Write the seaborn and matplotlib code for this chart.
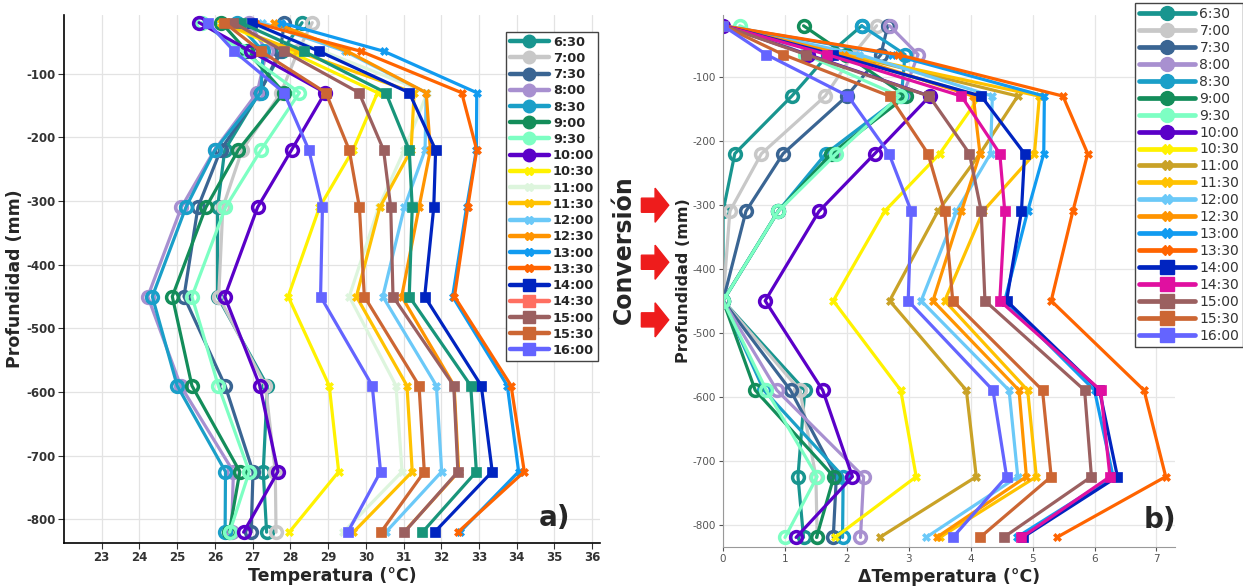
import numpy as np
import pandas as pd
import seaborn as sns
import matplotlib.pyplot as plt
from matplotlib.lines import Line2D
from matplotlib.patches import FancyArrow

# profundidades de medicion (mm)
profundidad = [-20, -65, -130, -220, -310, -450, -590, -725, -820]

horas = ['6:30', '7:00', '7:30', '8:00', '8:30', '9:00', '9:30', '10:00',
         '10:30', '11:00', '11:30', '12:00', '12:30', '13:00', '13:30',
         '14:00', '14:30', '15:00', '15:30', '16:00']

# temperaturas leidas del grafico a) (°C)
t_0630 = [28.31, 27.77, 27.18, 26.26, 26.07, 26.07, 27.39, 27.28, 27.37]
t_0700 = [28.58, 28.20, 27.75, 26.72, 26.21, 26.10, 27.34, 27.60, 27.62]
t_0730 = [27.84, 27.73, 27.18, 26.15, 25.55, 25.18, 26.27, 27.01, 26.96]
t_0800 = [26.91, 27.37, 27.12, 25.99, 25.11, 24.22, 25.09, 26.49, 26.44]
t_0830 = [26.58, 27.28, 27.22, 26.00, 25.23, 24.34, 25.00, 26.28, 26.27]
t_0900 = [26.17, 26.85, 27.83, 26.62, 25.76, 24.87, 25.39, 26.66, 26.38]
t_0930 = [25.66, 26.72, 28.24, 27.22, 26.28, 25.39, 26.09, 26.91, 26.39]
t_1000 = [25.58, 26.95, 28.92, 28.03, 27.13, 26.26, 27.19, 27.67, 26.76]
t_1030 = [26.16, 27.96, 30.31, 29.66, 28.77, 27.94, 29.03, 29.28, 27.97]
t_1100 = [26.87, 28.87, 31.63, 31.02, 30.34, 29.56, 30.80, 30.96, 29.40]
t_1130 = [26.17, 28.17, 31.28, 31.20, 30.37, 29.75, 31.09, 31.23, 29.67]
t_1200 = [27.25, 29.45, 31.60, 31.57, 31.02, 30.45, 31.87, 32.01, 30.53]
t_1230 = [27.56, 29.51, 31.60, 31.71, 31.41, 30.95, 32.34, 32.46, 31.01]
t_1300 = [27.75, 30.48, 32.94, 32.93, 32.67, 32.30, 33.75, 34.05, 32.49]
t_1330 = [27.05, 29.87, 32.54, 32.94, 32.70, 32.35, 33.85, 34.20, 32.44]
t_1400 = [26.98, 28.76, 31.15, 31.85, 31.80, 31.56, 33.06, 33.35, 31.82]
t_1430 = [26.68, 28.36, 30.53, 31.15, 31.23, 31.15, 32.78, 32.93, 31.50]
t_1500 = [26.49, 27.83, 29.82, 30.47, 30.66, 30.72, 32.33, 32.44, 31.02]
t_1530 = [26.25, 27.22, 28.94, 29.56, 29.83, 29.96, 31.41, 31.55, 30.40]
t_1600 = [25.81, 26.51, 27.83, 28.49, 28.85, 28.80, 30.17, 30.39, 29.52]

series = [t_0630, t_0700, t_0730, t_0800, t_0830, t_0900, t_0930, t_1000,
          t_1030, t_1100, t_1130, t_1200, t_1230, t_1300, t_1330,
          t_1400, t_1430, t_1500, t_1530, t_1600]

colores_a = ['#18958F', '#C8C8C8', '#3A6593', '#A890D0', '#1A9FC8', '#138D5A',
             '#7DFFC3', '#5A00C8', '#FFF200', '#DDF5DD', '#FFC200', '#6BC9F8',
             '#FF9400', '#119BF0', '#FF6400', '#0024C0', '#18957A', '#9B6060',
             '#CC6633', '#6464FF']
colores_leg_a = list(colores_a)
colores_leg_a[16] = '#FF6F61'
colores_b = list(colores_a)
colores_b[9] = '#C9A227'
colores_b[16] = '#E010A0'

marcadores = ['o'] * 8 + ['X'] * 7 + ['s'] * 5

sns.set_style('whitegrid')
plt.rcParams['font.family'] = ['DejaVu Sans']
plt.rcParams['axes.unicode_minus'] = False

fig = plt.figure(figsize=(12.43, 5.88), dpi=100)
ax1 = fig.add_axes([0.0515, 0.0765, 0.431, 0.898])
ax2 = fig.add_axes([0.5817, 0.0697, 0.3636, 0.905])


def estilo(m):
    if m == 'o':
        return dict(markersize=8.5, markerfacecolor='none', markeredgewidth=2.5)
    if m == 'X':
        return dict(markersize=6, markeredgewidth=0.5)
    return dict(markersize=7.5, markeredgewidth=0.5)


for i, hora in enumerate(horas):
    t = np.array(series[i])
    dt = t - t.min()  # conversion a delta de temperatura
    df = pd.DataFrame({'T': t, 'dT': dt, 'z': profundidad})
    m = marcadores[i]
    sns.lineplot(data=df, x='T', y='z', ax=ax1, color=colores_a[i], marker=m,
                 sort=False, estimator=None, orient='y', lw=2.3,
                 markeredgecolor=colores_a[i], **estilo(m))
    sns.lineplot(data=df, x='dT', y='z', ax=ax2, color=colores_b[i], marker=m,
                 sort=False, estimator=None, orient='y', lw=2.3,
                 markeredgecolor=colores_b[i], **estilo(m))

# panel a)
ax1.set_xlim(22, 36.2)
ax1.set_ylim(-837, -8)
ax1.set_xticks(range(23, 37))
ax1.set_yticks(range(-800, 0, 100))
ax1.tick_params(axis='both', labelsize=8.5, colors='#333333', length=4,
                left=True, bottom=True, pad=2)
for lab in ax1.get_xticklabels() + ax1.get_yticklabels():
    lab.set_fontweight('bold')
ax1.grid(color='#e3e3e3', lw=0.9)
for s in ['top', 'right']:
    ax1.spines[s].set_visible(False)
for s in ['left', 'bottom']:
    ax1.spines[s].set_color('black')
    ax1.spines[s].set_linewidth(1.2)
ax1.set_xlabel('Temperatura (°C)', fontsize=12.5, fontweight='bold', labelpad=2)
ax1.set_ylabel('Profundidad (mm)', fontsize=12.5, fontweight='bold', labelpad=2)

# panel b)
ax2.set_xlim(0, 7.3)
ax2.set_ylim(-835, -3)
ax2.set_xticks(range(0, 8))
ax2.set_yticks(range(-800, 0, 100))
ax2.tick_params(axis='both', labelsize=7.5, colors='#555555', length=3,
                left=True, bottom=True, pad=2)
ax2.grid(color='#e6e6e6', lw=0.9)
for s in ['top', 'right']:
    ax2.spines[s].set_visible(False)
for s in ['left', 'bottom']:
    ax2.spines[s].set_color('#999999')
ax2.set_xlabel('ΔTemperatura (°C)', fontsize=12.5, fontweight='bold', labelpad=3)
ax2.set_ylabel('Profundidad (mm)', fontsize=11.5, fontweight='bold', labelpad=1)

# leyendas
h_a = [Line2D([], [], color=colores_leg_a[i], marker=marcadores[i], lw=3.2,
              markersize=9 if marcadores[i] != 'X' else 6,
              markeredgecolor=colores_leg_a[i]) for i in range(20)]
leg1 = fig.legend(h_a, horas, loc='upper left', bbox_to_anchor=(0.407, 0.946),
                  fontsize=9.3, handlelength=3.0, labelspacing=0.25,
                  borderpad=0.3, handletextpad=0.35, fancybox=False,
                  framealpha=1, edgecolor='#444444', borderaxespad=0)
for txt in leg1.get_texts():
    txt.set_fontweight('bold')

h_b = [Line2D([], [], color=colores_b[i], marker=marcadores[i], lw=3.4,
              markersize=10 if marcadores[i] != 'X' else 6.5,
              markeredgecolor=colores_b[i]) for i in range(20)]
leg2 = fig.legend(h_b, horas, loc='upper left', bbox_to_anchor=(0.913, 0.995),
                  fontsize=10, handlelength=4.0, labelspacing=0.21,
                  borderpad=0.3, handletextpad=0.35, fancybox=False,
                  framealpha=1, edgecolor='#444444', borderaxespad=0)
for txt in leg2.get_texts():
    txt.set_color('#333333')

# conversion
fig.text(0.502, 0.575, 'Conversión', rotation=90, fontsize=17,
         fontweight='bold', ha='center', va='center')
for yc in [0.651, 0.554, 0.456]:
    fig.patches.append(FancyArrow(0.516, yc, 0.011, 0, width=0.024,
                                  head_width=0.058, head_length=0.011,
                                  length_includes_head=False,
                                  transform=fig.transFigure, color='#EE1C1C',
                                  figure=fig))

fig.text(0.4465, 0.119, 'a)', fontsize=20, fontweight='bold',
         ha='center', va='center')
fig.text(0.933, 0.116, 'b)', fontsize=20, fontweight='bold',
         ha='center', va='center')

plt.savefig('out.png', dpi=100)
